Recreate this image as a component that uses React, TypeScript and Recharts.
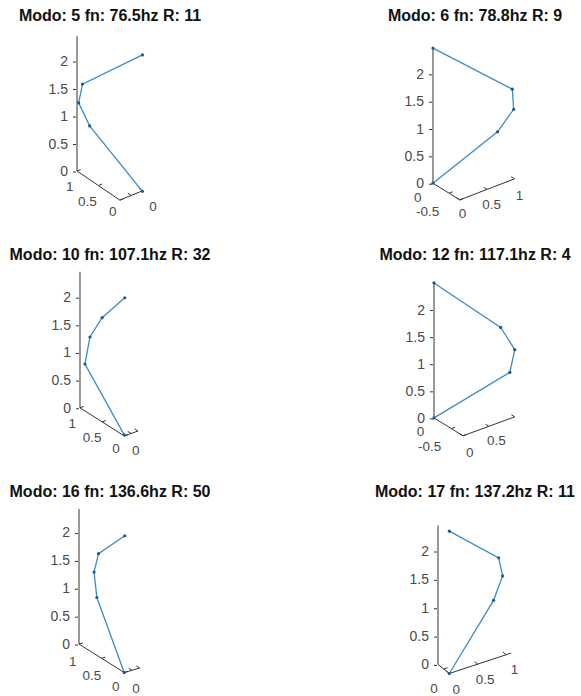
import React from 'react'
import { ReferenceDot, ReferenceLine, Scatter, ScatterChart, XAxis, YAxis } from 'recharts'

// projected view of each mode shape: h = horizontal offset from the z axis, v = height, in axis units
const TITLES = [
  'Modo: 5 fn: 76.5hz R: 11',
  'Modo: 6 fn: 78.8hz R: 9',
  'Modo: 10 fn: 107.1hz R: 32',
  'Modo: 12 fn: 117.1hz R: 4',
  'Modo: 16 fn: 136.6hz R: 50',
  'Modo: 17 fn: 137.2hz R: 11',
]

const Z_TICKS = [0, 0.5, 1, 1.5, 2]

const mode5H = [1.19, 0.23, 0.03, 0.1, 1.19]
const mode5V = [-0.37, 0.82, 1.24, 1.58, 2.11]
const mode6H = [0, 1.18, 1.475, 1.45, 0]
const mode6V = [0, 0.94, 1.35, 1.72, 2.47]
const mode10H = [0.8, 0.09, 0.18, 0.4, 0.81]
const mode10V = [-0.49, 0.79, 1.28, 1.63, 1.99]
const mode12H = [0, 1.4, 1.49, 1.23, 0]
const mode12V = [0, 0.84, 1.26, 1.67, 2.49]
const mode16H = [0.81, 0.32, 0.27, 0.35, 0.82]
const mode16V = [-0.51, 0.835, 1.29, 1.62, 1.94]
const mode17H = [0.2, 0.98, 1.14, 1.07, 0.2]
const mode17V = [-0.16, 1.13, 1.56, 1.88, 2.35]

const zTops = [2.45, 2.47, 2.46, 2.49, 2.42, 2.45]

// floor axes as [h0, v0, h1, v1]
const floorA = [
  [0, 0, 0.78, -0.53],
  [0, 0, 0.49, -0.305],
  [0, 0, 0.8, -0.51],
  [0, 0, 0.535, -0.33],
  [0, 0, 0.81, -0.51],
  [0, 0, 0.2, -0.16],
]
const floorB = [
  [0.78, -0.53, 1.19, -0.36],
  [0.49, -0.305, 1.49, 0.08],
  [0.8, -0.51, 1.05, -0.42],
  [0.535, -0.33, 1.49, 0.02],
  [0.81, -0.51, 1.09, -0.43],
  [0.2, -0.16, 1.29, 0.2],
]
const floorTicksA = [[0, 0.5, 1], [0.6, 1], [0, 0.5, 1], [0.6, 1], [0, 0.5, 1], [0.5]]
const floorTicksB = [[0.5, 1], [0, 0.5, 1], [0.5, 1], [0, 0.5, 1], [0.5, 1], [0, 0.46, 0.92]]

const floorLabels = [
  ['1', '0.5', '0', '0'],
  ['0', '-0.5', '0', '0.5', '1'],
  ['1', '0.5', '0', '0'],
  ['0', '-0.5', '0', '0.5'],
  ['1', '0.5', '0', '0'],
  ['0', '0', '0.5', '1'],
]
const floorLabelH = [
  [-0.13, 0.19, 0.65, 1.38],
  [-0.28, -0.1, 0.54, 1.07, 1.58],
  [-0.14, 0.22, 0.65, 1.01],
  [-0.25, -0.08, 0.66, 1.15],
  [-0.11, 0.23, 0.66, 1.02],
  [-0.07, 0.32, 0.83, 1.35],
]
const floorLabelV = [
  [-0.27, -0.55, -0.73, -0.64],
  [-0.25, -0.51, -0.54, -0.38, -0.21],
  [-0.28, -0.53, -0.73, -0.76],
  [-0.25, -0.52, -0.62, -0.41],
  [-0.31, -0.55, -0.76, -0.79],
  [-0.41, -0.43, -0.26, -0.08],
]

const SHAPES = [
  [mode5H, mode5V],
  [mode6H, mode6V],
  [mode10H, mode10V],
  [mode12H, mode12V],
  [mode16H, mode16V],
  [mode17H, mode17V],
]

// pixel placement of each panel: z axis x, z=0 y, px per unit, title centre
const BOXES = [
  { axisX: 77.3, zeroY: 171, unit: 55, tx: 110, ty: 16 },
  { axisX: 433.3, zeroY: 183.3, unit: 54.7, tx: 475, ty: 16 },
  { axisX: 80, zeroY: 407.7, unit: 55.3, tx: 110, ty: 255 },
  { axisX: 434.3, zeroY: 418.3, unit: 54.2, tx: 475, ty: 255 },
  { axisX: 79, zeroY: 644.3, unit: 55.8, tx: 110, ty: 492 },
  { axisX: 437.7, zeroY: 664, unit: 56.7, tx: 475, ty: 492 },
]

const LINE = '#3a8ccc'
const DOT = '#1d5a8a'
const AXIS = '#333333'
const TEXT = '#4a4a4a'
const FONT = "'Liberation Sans', Arial, sans-serif"

const YW = 45
const XD = 1.8
const YL = -0.95
const YH = 2.6

function tickSegs(axis: number[], fracs: number[], other: number[], len: number, flip: boolean) {
  const dx = other[2] - other[0]
  const dy = other[3] - other[1]
  const n = Math.hypot(dx, dy) || 1
  const s = flip ? -1 : 1
  return fracs.map((f) => {
    const h = axis[0] + f * (axis[2] - axis[0])
    const v = axis[1] + f * (axis[3] - axis[1])
    return [
      { x: h, y: v },
      { x: h + (s * dx * len) / n, y: v + (s * dy * len) / n },
    ]
  })
}

function ZTick(props: any) {
  const { x, y, payload } = props
  return (
    <g>
      <text x={x} y={y} dy={5} textAnchor="end" fill={TEXT} fontSize={14} fontFamily={FONT}>
        {payload.value}
      </text>
      <line x1={x + 5} x2={x + 8} y1={y + 1} y2={y + 1} stroke={AXIS} strokeWidth={1} />
    </g>
  )
}

function ModePanel({ i }: { i: number }) {
  const box = BOXES[i]
  const [hs, vs] = SHAPES[i]
  const data = hs.map((h, k) => ({ h, v: vs[k] }))
  const width = YW + XD * box.unit
  const height = (YH - YL) * box.unit
  const len = 4 / box.unit
  const ticksA = tickSegs(floorA[i], floorTicksA[i], floorB[i], len, false)
  const ticksB = tickSegs(floorB[i], floorTicksB[i], floorA[i], len, true)

  return (
    <>
      <div
        style={{
          position: 'absolute',
          left: box.tx - 150,
          top: box.ty - 10,
          width: 300,
          textAlign: 'center',
          fontFamily: FONT,
          fontWeight: 'bold',
          fontSize: 16,
          lineHeight: '20px',
          color: '#111',
          whiteSpace: 'nowrap',
        }}
      >
        {TITLES[i]}
      </div>
      <div style={{ position: 'absolute', left: box.axisX - YW, top: box.zeroY - YH * box.unit }}>
        <ScatterChart width={width} height={height} margin={{ top: 0, right: 0, bottom: 0, left: 0 }}>
          <XAxis type="number" dataKey="h" domain={[0, XD]} hide />
          <YAxis
            type="number"
            dataKey="v"
            domain={[YL, YH]}
            ticks={Z_TICKS}
            interval={0}
            width={YW}
            axisLine={false}
            tickLine={false}
            tickSize={0}
            tickMargin={9}
            tick={<ZTick />}
          />
          <ReferenceLine
            segment={[{ x: 0, y: 0 }, { x: 0, y: zTops[i] }]}
            stroke={AXIS}
            strokeWidth={1}
            ifOverflow="visible"
          />
          <ReferenceLine
            segment={[{ x: floorA[i][0], y: floorA[i][1] }, { x: floorA[i][2], y: floorA[i][3] }]}
            stroke={AXIS}
            strokeWidth={1}
            ifOverflow="visible"
          />
          <ReferenceLine
            segment={[{ x: floorB[i][0], y: floorB[i][1] }, { x: floorB[i][2], y: floorB[i][3] }]}
            stroke={AXIS}
            strokeWidth={1}
            ifOverflow="visible"
          />
          {[...ticksA, ...ticksB].map((seg, k) => (
            <ReferenceLine key={`t${k}`} segment={seg} stroke={AXIS} strokeWidth={1} ifOverflow="visible" />
          ))}
          {floorLabels[i].map((lab, k) => (
            <ReferenceDot
              key={`l${k}`}
              x={floorLabelH[i][k]}
              y={floorLabelV[i][k]}
              r={1}
              ifOverflow="visible"
              shape={(p: any) => (
                <text x={p.cx} y={p.cy} dy={5} textAnchor="middle" fill={TEXT} fontSize={13.5} fontFamily={FONT}>
                  {lab}
                </text>
              )}
            />
          ))}
          <Scatter
            data={data}
            line={{ stroke: LINE, strokeWidth: 1.3 }}
            shape={(p: any) => <circle cx={p.cx} cy={p.cy} r={1.6} fill={DOT} />}
            isAnimationActive={false}
          />
        </ScatterChart>
      </div>
    </>
  )
}

export default function App() {
  return (
    <div
      style={{
        position: 'absolute',
        left: 0,
        top: 0,
        width: 581,
        height: 696,
        background: '#fff',
        overflow: 'hidden',
      }}
    >
      {TITLES.map((_, i) => (
        <ModePanel key={i} i={i} />
      ))}
    </div>
  )
}
